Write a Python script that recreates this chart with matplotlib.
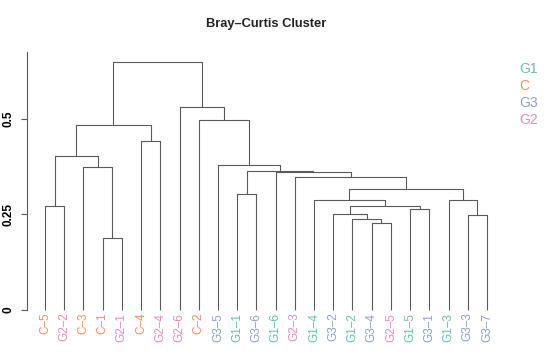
import matplotlib
matplotlib.use("Agg")
import matplotlib.pyplot as plt

plt.rcParams['font.family'] = ['Liberation Sans', 'DejaVu Sans']

# ---- data ----
leaves = ["C-5", "G2-2", "C-3", "C-1", "G2-1", "C-4", "G2-4", "G2-6", "C-2",
          "G3-5", "G1-1", "G3-6", "G1-6", "G2-3", "G1-4", "G3-2", "G1-2",
          "G3-4", "G2-5", "G1-5", "G3-1", "G1-3", "G3-3", "G3-7"]

# merges: (name, left child, right child, height)
merge_names = ["m1", "m2", "m3", "m4", "m5", "m6", "m7", "m8", "m9", "m10",
               "m11", "m12", "m13", "m14", "m15", "m16", "m17", "m18", "m19",
               "m20", "m21", "m22", "m23"]
merge_left = ["G3-4", "G1-2", "G3-3", "G3-2", "G1-5", "m4", "C-5", "G1-3",
              "G1-4", "G1-1", "m9", "G2-3", "G1-6", "m10", "G3-5", "C-1",
              "C-3", "m7", "C-4", "m18", "C-2", "G2-6", "m20"]
merge_right = ["G2-5", "m1", "G3-7", "m2", "G3-1", "m5", "G2-2", "m3",
               "m6", "G3-6", "m8", "m11", "m12", "m13", "m14", "G2-1",
               "m16", "m17", "G2-4", "m19", "m15", "m21", "m22"]
merge_height = [0.227, 0.237, 0.249, 0.252, 0.265, 0.273, 0.272, 0.288,
                0.287, 0.303, 0.317, 0.348, 0.361, 0.363, 0.380, 0.188,
                0.374, 0.402, 0.443, 0.484, 0.496, 0.532, 0.648]

groups = ["G1", "C", "G3", "G2"]
group_colors = ["#66C2A5", "#FC8D62", "#8DA0CB", "#E78AC3"]

y_ticks = [0, 0.25, 0.5]
title = "Bray\u2013Curtis Cluster"

# ---- layout ----
W, H = 556, 363
fig = plt.figure(figsize=(W / 100, H / 100), dpi=100)
ax_left, ax_right = 27, 505
ax_top, ax_bot = 51.7, 321.5
ax = fig.add_axes([ax_left / W, 1 - ax_bot / H,
                   (ax_right - ax_left) / W, (ax_bot - ax_top) / H])

# x positions
pos = {name: i + 1 for i, name in enumerate(leaves)}
hgt = {name: 0.0 for name in leaves}
line_color = "#5a5a5a"
for name, l, r, h in zip(merge_names, merge_left, merge_right, merge_height):
    xl, xr = pos[l], pos[r]
    ax.plot([xl, xl, xr, xr], [hgt[l], h, h, hgt[r]],
            color=line_color, lw=0.8, solid_capstyle='butt')
    pos[name] = (xl + xr) / 2
    hgt[name] = h

col_of = dict(zip(groups, group_colors))
for i, name in enumerate(leaves):
    g = name.split("-")[0]
    ax.text(i + 1, -0.007, name.replace("-", "\u2013"), rotation=90,
            ha='center', va='top', fontsize=8.5, color=col_of[g])

spacing = 442 / 23
ax.set_xlim(1 - (45 - ax_left) / spacing, 24 + (ax_right - 487) / spacing)
ax.set_ylim(-0.03, 0.676)

for s in ["top", "right", "bottom"]:
    ax.spines[s].set_visible(False)
ax.spines["left"].set_bounds(0, 0.676)
ax.spines["left"].set_color("#5a5a5a")
ax.spines["left"].set_linewidth(0.8)
ax.set_xticks([])
ax.set_yticks(y_ticks)
ax.set_yticklabels(["0", "0.25", "0.5"], rotation=90, va='center',
                   fontsize=8.5, fontweight='bold')
ax.tick_params(axis='y', length=4, width=0.8, color="#5a5a5a", pad=5)

fig.text(266 / W, 1 - 24 / H, title, ha='center', va='center',
         fontsize=9.3, fontweight='bold', color="#222222")

for k, (g, c) in enumerate(zip(groups, group_colors)):
    fig.text(519 / W, 1 - (69 + 17 * k) / H, g, ha='left', va='center',
             fontsize=10, color=c)

fig.savefig("out.png", dpi=100)
